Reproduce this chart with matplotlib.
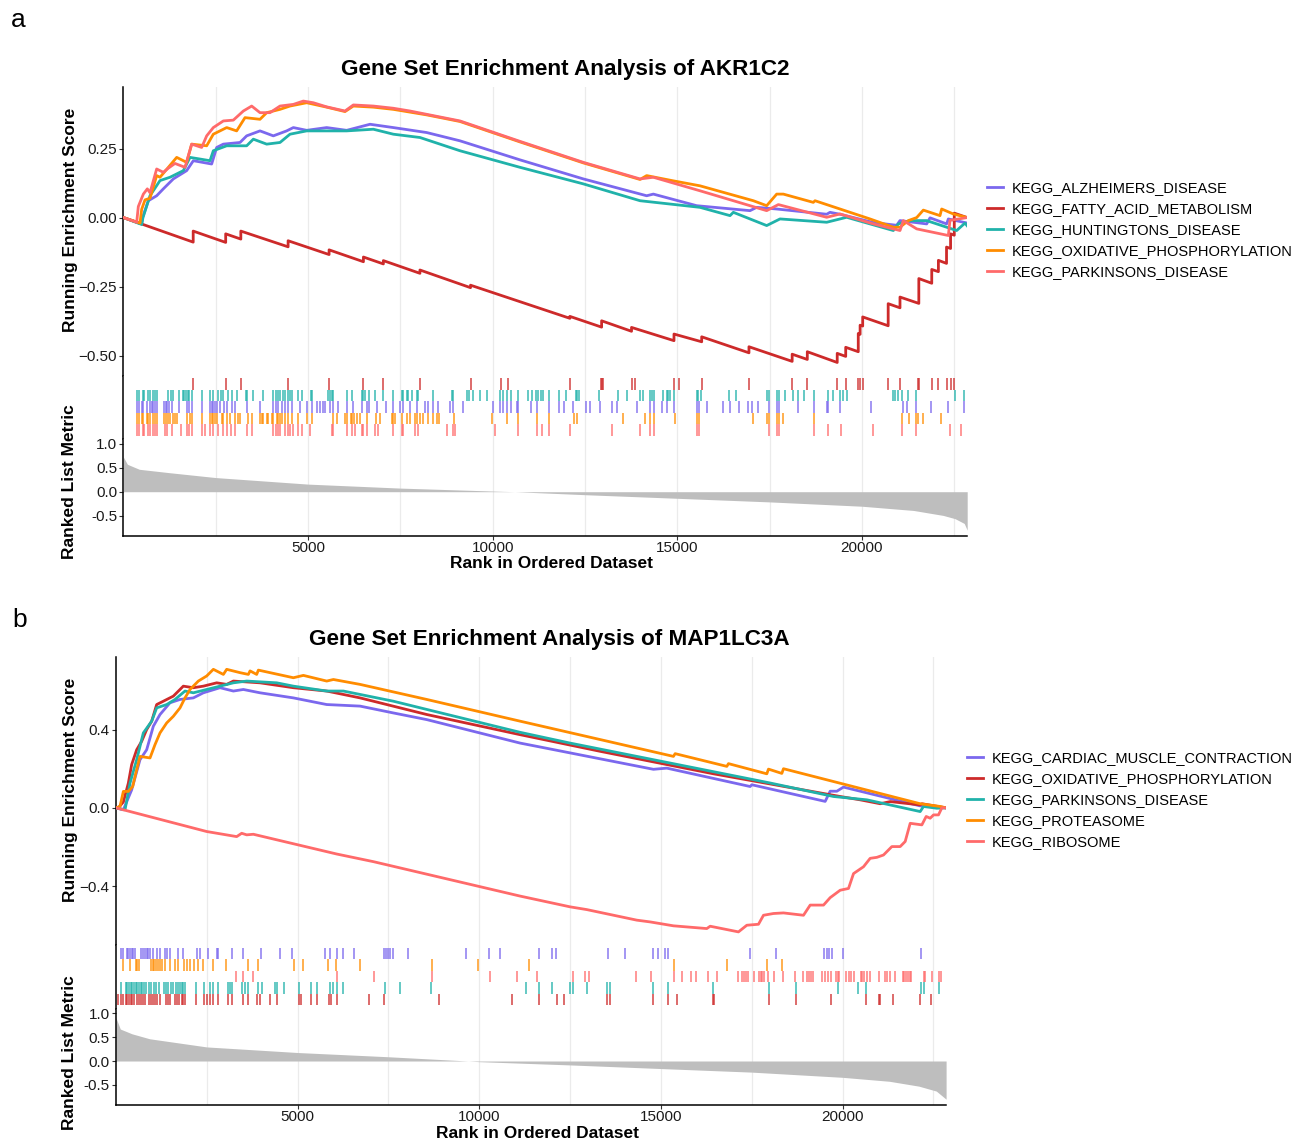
import matplotlib.pyplot as plt
import numpy as np

plt.rcParams['font.family'] = ['Liberation Sans', 'DejaVu Sans']

W, H = 1302, 1141
N_GENES = 22850

# colours per gene set
PURPLE, RED, TEAL, ORANGE, SALMON = '#7B68EE', '#CD2A2A', '#20B2AA', '#FF8C00', '#FF6A6A'

# ---------------- panel a : AKR1C2 ----------------
a_title = 'Gene Set Enrichment Analysis of AKR1C2'
a_names = ['KEGG_ALZHEIMERS_DISEASE', 'KEGG_FATTY_ACID_METABOLISM', 'KEGG_HUNTINGTONS_DISEASE',
           'KEGG_OXIDATIVE_PHOSPHORYLATION', 'KEGG_PARKINSONS_DISEASE']
a_colors = [PURPLE, RED, TEAL, ORANGE, SALMON]

a_alz_rank = [0, 495, 520, 675, 901, 1081, 1352, 1713, 1894, 2390, 2526, 2706, 3158, 3338, 3699, 4060,
              4421, 4602, 4963, 5505, 6046, 6678, 7310, 8213, 9115, 10740, 12455, 14170, 14351, 15524,
              16968, 17149, 17691, 19045, 19135, 19406, 20308, 20940, 21030, 21753, 21843, 22294, 22339, 22850]
a_alz_es = [0, -0.023, 0.0, 0.061, 0.079, 0.104, 0.14, 0.17, 0.206, 0.194, 0.254, 0.266, 0.272, 0.296,
            0.314, 0.296, 0.314, 0.326, 0.316, 0.326, 0.316, 0.338, 0.326, 0.308, 0.278, 0.209, 0.14, 0.079,
            0.085, 0.043, 0.025, 0.037, 0.031, 0.012, 0.019, 0.012, -0.018, -0.028, -0.011, -0.023, -0.001,
            -0.023, -0.005, -0.02]

# fatty acid metabolism: hit ranks with running score just before / after each jump
a_fatty_jump = [1890, 2770, 3180, 4460, 5570, 6500, 7040, 8030, 9400, 12090, 12950, 13760, 14910, 15660,
                16940, 18110, 18520, 19330, 19560, 19900, 19950, 20020, 20710, 21030, 21540, 21890, 22070,
                22290, 22400, 22500]
a_fatty_before = [-0.089, -0.090, -0.078, -0.106, -0.134, -0.160, -0.168, -0.202, -0.254, -0.365, -0.397,
                  -0.412, -0.446, -0.450, -0.490, -0.521, -0.514, -0.525, -0.503, -0.486, -0.423, -0.393,
                  -0.392, -0.327, -0.311, -0.238, -0.196, -0.166, -0.112, -0.064]
a_fatty_after = [-0.049, -0.059, -0.049, -0.084, -0.117, -0.143, -0.156, -0.190, -0.245, -0.358, -0.374,
                 -0.398, -0.422, -0.432, -0.468, -0.495, -0.486, -0.492, -0.470, -0.420, -0.390, -0.360,
                 -0.312, -0.288, -0.221, -0.188, -0.155, -0.107, -0.059, 0.016]

a_hunt_rank = [0, 495, 530, 720, 991, 1262, 1623, 1804, 2345, 2435, 2797, 3338, 3519, 3880, 4241, 4511,
               4963, 5505, 6046, 6768, 7310, 8032, 9115, 10740, 12455, 13990, 15614, 16427, 16517, 17420,
               17781, 19045, 19586, 20850, 20985, 21301, 21753, 22565, 22790, 22850]
a_hunt_es = [0, -0.025, 0.0, 0.079, 0.134, 0.146, 0.17, 0.218, 0.206, 0.242, 0.26, 0.26, 0.284, 0.266,
             0.272, 0.302, 0.314, 0.314, 0.314, 0.32, 0.302, 0.29, 0.242, 0.182, 0.122, 0.061, 0.037, 0.007,
             0.019, -0.029, -0.005, -0.017, 0.001, -0.047, -0.023, -0.011, -0.011, -0.047, -0.02, -0.03]

a_oxphos_rank = [0, 450, 495, 585, 720, 901, 991, 1443, 1713, 1849, 2255, 2435, 2797, 3067, 3293, 3699,
                 3880, 4241, 4511, 4963, 5505, 6001, 6227, 6768, 7310, 8213, 9115, 10740, 12455, 13990,
                 14170, 14892, 15614, 17059, 17420, 17691, 17871, 18683, 18729, 20218, 20850, 21030, 21256,
                 21482, 21662, 22113, 22159, 22474, 22850]
a_oxphos_es = [0, -0.02, 0.03, 0.064, 0.07, 0.152, 0.146, 0.218, 0.2, 0.266, 0.26, 0.302, 0.326, 0.314,
               0.362, 0.356, 0.38, 0.392, 0.404, 0.416, 0.4, 0.384, 0.404, 0.4, 0.392, 0.372, 0.348, 0.274,
               0.198, 0.138, 0.152, 0.133, 0.115, 0.061, 0.043, 0.085, 0.085, 0.055, 0.061, -0.005, -0.035,
               -0.035, -0.011, 0.0, 0.027, 0.007, 0.031, 0.013, 0.0]

a_park_rank = [0, 360, 404, 540, 648, 720, 901, 1081, 1217, 1397, 1668, 1849, 2120, 2255, 2435, 2706,
               2977, 3248, 3474, 3699, 3970, 4241, 4602, 4872, 5143, 5505, 6001, 6227, 6768, 7310, 7761,
               8213, 9115, 10740, 12455, 13990, 14351, 15614, 17420, 17736, 19045, 19406, 20308, 21030,
               21120, 21482, 22339, 22384, 22850]
a_park_es = [0, -0.017, 0.04, 0.085, 0.104, 0.09, 0.176, 0.164, 0.179, 0.196, 0.182, 0.266, 0.254, 0.296,
             0.326, 0.35, 0.353, 0.386, 0.404, 0.38, 0.38, 0.404, 0.41, 0.422, 0.416, 0.401, 0.386, 0.408,
             0.404, 0.396, 0.386, 0.374, 0.35, 0.276, 0.2, 0.14, 0.146, 0.097, 0.025, 0.047, 0.001, 0.013,
             -0.023, -0.047, -0.011, -0.041, -0.065, -0.01, 0.0]

# gene positions of each set in the ranked list
a_hits_alz = [377, 431, 495, 540, 630, 720, 766, 811, 856, 901, 1099, 1145, 1190, 1235, 1307, 1515, 1731,
              1785, 1849, 2120, 2345, 2390, 2435, 2481, 2526, 2616, 2724, 2797, 2932, 3022, 3338, 3699,
              4042, 4132, 4196, 4286, 4376, 4466, 4557, 4782, 4963, 5116, 5252, 5324, 5396, 5468, 5595,
              5685, 5820, 6046, 6226, 6452, 6588, 6660, 6859, 7111, 7310, 7490, 7581, 7761, 7942, 8167,
              8258, 8393, 8528, 8844, 8935, 9187, 10000, 10198, 10289, 10397, 10487, 10650, 10695, 11029,
              11191, 11534, 11805, 11940, 12184, 12527, 12636, 12906, 13222, 13376, 13917, 14260, 14369,
              14576, 14712, 14910, 15542, 15596, 15795, 16246, 16427, 16679, 16923, 17014, 17176, 17492,
              17708, 17763, 18277, 18701, 19045, 19072, 19406, 20236, 21103, 21211, 21464, 21861, 22321,
              22763]
a_hits_fatty = [1890, 2770, 3180, 4460, 5570, 6500, 7040, 8030, 9400, 10220, 10420, 12090, 12930, 12960,
                12990, 13760, 13850, 14910, 15050, 15660, 16940, 18110, 18520, 19330, 19560, 19900, 19950,
                20020, 20710, 21030, 21530, 21550, 21890, 22070, 22290, 22400, 22500]
a_hits_hunt = [377, 431, 522, 567, 675, 720, 811, 856, 901, 1217, 1280, 1352, 1506, 1605, 1650, 1695,
               1740, 1785, 1849, 2120, 2345, 2435, 2571, 2634, 2706, 2842, 2932, 3067, 3311, 3356, 3519,
               3789, 4060, 4132, 4196, 4241, 4313, 4376, 4466, 4511, 4557, 4737, 4827, 5071, 5116, 5550,
               5595, 5640, 5685, 6046, 6199, 6452, 6497, 6543, 6660, 6813, 7039, 7310, 7536, 7581, 7671,
               7716, 7806, 7942, 7987, 8375, 8890, 8935, 9314, 9368, 9458, 9657, 9837, 10198, 10289, 10379,
               10487, 10695, 10966, 11056, 11173, 11236, 11300, 11354, 11534, 11805, 11986, 12256, 12292,
               12347, 12888, 13385, 13629, 13990, 14062, 14260, 14306, 14369, 14621, 14712, 14757, 14802,
               14910, 15524, 15569, 15632, 16409, 16589, 17420, 17492, 17708, 17763, 17916, 18142, 18277,
               18431, 18701, 19090, 19225, 19406, 19478, 19586, 20832, 20895, 20967, 21094, 21256, 21464,
               22520, 22763]
a_hits_oxphos = [377, 431, 495, 540, 630, 675, 720, 811, 856, 901, 1108, 1145, 1199, 1262, 1352, 1397,
                 1443, 1731, 1804, 1849, 2120, 2345, 2390, 2435, 2481, 2526, 2661, 2706, 2797, 2887, 3022,
                 3112, 3158, 3383, 3474, 3699, 3744, 3789, 3880, 3925, 4015, 4060, 4150, 4196, 4241, 4286,
                 4376, 4448, 4557, 4737, 4963, 5116, 5685, 5775, 6001, 6046, 6154, 6199, 6245, 6317, 6407,
                 6588, 6840, 6949, 7265, 7310, 7355, 7536, 7671, 7761, 7897, 7942, 8032, 8122, 8258, 8375,
                 8483, 8555, 8962, 9973, 10397, 10695, 11191, 11534, 12202, 12292, 13538, 14125, 14260,
                 14369, 14937, 15542, 15596, 17058, 17438, 17492, 17708, 17763, 17871, 18701, 21094, 21274,
                 21464, 21527, 21644, 22141]
a_hits_park = [377, 431, 522, 567, 675, 720, 811, 856, 901, 1127, 1172, 1307, 1551, 1731, 1785, 1849,
               2120, 2210, 2345, 2435, 2571, 2706, 2797, 2905, 3022, 3338, 3491, 4060, 4132, 4196, 4241,
               4376, 4466, 4511, 4584, 4737, 4827, 5053, 5640, 5685, 6046, 6182, 6272, 6452, 6497, 6588,
               6813, 6904, 7310, 7536, 7581, 7897, 7987, 8754, 8935, 8980, 10063, 10695, 11191, 11327,
               11534, 12094, 13240, 13990, 14260, 14369, 15542, 15596, 17492, 17708, 17763, 18701, 19090,
               19424, 20308, 21094, 21464, 22384, 22673]

# ranked list metric
a_metric_rank = [0, 108, 431, 1240, 2500, 5000, 7500, 10000, 10600, 12500, 15000, 17500, 20000, 21400,
                 22200, 22520, 22770, 22850]
a_metric = [0.72, 0.57, 0.466, 0.396, 0.294, 0.158, 0.075, 0.014, 0.0, -0.062, -0.137, -0.212, -0.302,
            -0.39, -0.493, -0.56, -0.66, -0.80]

# ---------------- panel b : MAP1LC3A ----------------
b_title = 'Gene Set Enrichment Analysis of MAP1LC3A'
b_names = ['KEGG_CARDIAC_MUSCLE_CONTRACTION', 'KEGG_OXIDATIVE_PHOSPHORYLATION', 'KEGG_PARKINSONS_DISEASE',
           'KEGG_PROTEASOME', 'KEGG_RIBOSOME']
b_colors = [PURPLE, RED, TEAL, ORANGE, SALMON]

b_cardiac_rank = [0, 205, 434, 663, 847, 1030, 1214, 1489, 1765, 2132, 2407, 2866, 3233, 3508, 3967, 4885,
                  5802, 6720, 7638, 8556, 11125, 11676, 14795, 15163, 17457, 17503, 19522, 19659, 19843,
                  20026, 22137, 22850]
b_cardiac_es = [0, -0.01, 0.092, 0.246, 0.297, 0.417, 0.477, 0.537, 0.554, 0.562, 0.588, 0.614, 0.597,
                0.605, 0.588, 0.562, 0.528, 0.52, 0.485, 0.451, 0.331, 0.311, 0.197, 0.203, 0.109, 0.118,
                0.033, 0.085, 0.085, 0.106, 0.01, 0.0]

b_oxphos_rank = [0, 67, 205, 342, 434, 572, 709, 847, 985, 1122, 1306, 1581, 1856, 2132, 2407, 2774, 3049,
                 3233, 3967, 4885, 5802, 6720, 8556, 11125, 13327, 16447, 19935, 20485, 21036, 21311, 22137,
                 22183, 22850]
b_oxphos_es = [0, 0.0, 0.03, 0.126, 0.221, 0.297, 0.34, 0.40, 0.443, 0.528, 0.545, 0.571, 0.622, 0.614,
               0.622, 0.639, 0.631, 0.648, 0.639, 0.614, 0.597, 0.562, 0.477, 0.374, 0.289, 0.174, 0.058,
               0.041, 0.021, 0.032, 0.015, 0.021, 0.0]

b_park_rank = [0, 251, 388, 572, 755, 985, 1122, 1398, 1627, 1902, 2132, 2499, 2866, 3233, 3600, 4426,
               4885, 5802, 6261, 7638, 8556, 11125, 12501, 14795, 18007, 19751, 20669, 22137, 22228, 22595,
               22850]
b_park_es = [0, -0.01, 0.126, 0.246, 0.383, 0.443, 0.511, 0.528, 0.554, 0.597, 0.588, 0.605, 0.622, 0.639,
             0.648, 0.639, 0.622, 0.597, 0.597, 0.545, 0.503, 0.386, 0.331, 0.246, 0.127, 0.058, 0.041,
             -0.019, 0.007, -0.002, 0.0]

b_prot_rank = [0, 113, 205, 342, 462, 572, 663, 939, 1076, 1214, 1398, 1581, 1765, 1902, 2040, 2269, 2499,
               2682, 2958, 3049, 3416, 3646, 3692, 3875, 3921, 4885, 5160, 5802, 5986, 6720, 8556, 11125,
               15346, 15392, 16815, 16860, 17916, 17961, 18329, 18374, 22137, 22687, 22850]
b_prot_es = [0, 0.007, 0.084, 0.084, 0.109, 0.195, 0.263, 0.255, 0.323, 0.383, 0.434, 0.468, 0.511, 0.562,
             0.605, 0.648, 0.674, 0.708, 0.682, 0.708, 0.691, 0.682, 0.70, 0.682, 0.704, 0.665, 0.677,
             0.648, 0.656, 0.631, 0.554, 0.443, 0.263, 0.277, 0.212, 0.226, 0.174, 0.198, 0.176, 0.2,
             0.021, 0.007, 0.0]

b_ribo_rank = [0, 2499, 3325, 3462, 3600, 3783, 6078, 7087, 11125, 12501, 12960, 14337, 14704, 15346,
               16264, 16356, 17135, 17365, 17686, 17824, 18099, 18374, 18925, 19109, 19476, 19659, 19935,
               20164, 20302, 20577, 20760, 20944, 21127, 21357, 21586, 21724, 21862, 22183, 22302, 22412,
               22504, 22641, 22733, 22850]
b_ribo_es = [0, -0.121, -0.147, -0.130, -0.138, -0.135, -0.236, -0.275, -0.451, -0.506, -0.520, -0.574,
             -0.583, -0.603, -0.617, -0.605, -0.634, -0.600, -0.595, -0.549, -0.540, -0.537, -0.549,
             -0.497, -0.497, -0.459, -0.421, -0.412, -0.336, -0.301, -0.258, -0.253, -0.241, -0.198,
             -0.198, -0.172, -0.079, -0.087, -0.044, -0.053, -0.036, -0.036, 0.0, 0.0]

b_hits_cardiac = [140, 205, 296, 342, 388, 434, 480, 526, 691, 737, 801, 847, 893, 939, 1030, 1122, 1214,
                  1352, 1398, 1489, 1701, 1856, 2224, 2315, 2545, 2774, 2820, 3187, 3508, 3995, 4518, 4839,
                  5757, 5894, 6096, 6261, 6555, 7381, 7436, 7500, 7546, 7638, 8051, 9629, 10271, 10574,
                  11657, 12015, 12107, 13538, 14016, 14777, 14933, 15117, 15208, 17457, 18163, 19494, 19568,
                  19632, 19705, 20008, 22155]
b_hits_prot = [186, 388, 553, 590, 645, 957, 1012, 1049, 1104, 1168, 1214, 1260, 1352, 1489, 1627, 1719,
               1875, 1966, 2040, 2150, 2269, 2407, 2664, 3031, 3646, 3921, 4912, 5160, 5830, 6059, 6720,
               8711, 9978, 11373, 15374, 16814, 17916, 18347]
b_hits_ribo = [3306, 3490, 3783, 6096, 7115, 8711, 10299, 11033, 11584, 12593, 12914, 13024, 14309, 14722,
               15364, 15594, 15823, 15961, 16309, 16557, 17117, 17227, 17292, 17347, 17411, 17567, 17705,
               17750, 17796, 17842, 17961, 18117, 18374, 18696, 18925, 19017, 19090, 19136, 19200, 19448,
               19522, 19595, 19678, 19815, 19861, 19907, 20100, 20164, 20237, 20320, 20504, 20549, 20604,
               20669, 20742, 20990, 21173, 21237, 21311, 21430, 21660, 21705, 21751, 21797, 21843, 21889,
               22229, 22274, 22458, 22642, 22706]
b_hits_park = [140, 278, 315, 361, 407, 452, 498, 544, 590, 636, 682, 728, 774, 820, 911, 957, 1049, 1095,
               1187, 1324, 1379, 1443, 1508, 1581, 1655, 1719, 1765, 1811, 1856, 1902, 2205, 2425, 2591,
               2682, 2820, 3077, 3141, 3205, 3462, 3554, 3628, 3921, 4013, 4380, 4426, 4637, 5041, 5371,
               5545, 5894, 5986, 6078, 6243, 7408, 7821, 8675, 11281, 11657, 11997, 12501, 12575, 12978,
               13511, 13603, 14777, 15208, 16429, 17989, 18714, 19870, 20412, 20641, 22155, 22229, 22642]
b_hits_oxphos = [67, 131, 186, 278, 315, 361, 407, 452, 498, 572, 636, 682, 755, 801, 920, 966, 1012, 1076,
                 1122, 1214, 1370, 1443, 1489, 1627, 1673, 1737, 1811, 1856, 1902, 2205, 2425, 2499, 2591,
                 2682, 2820, 3095, 3187, 3508, 3646, 3894, 3967, 4242, 4426, 5050, 5087, 5371, 5545, 5876,
                 5913, 6078, 6977, 7390, 8904, 10896, 11657, 12134, 12345, 13511, 13603, 14777, 15208,
                 15438, 16447, 16475, 17989, 18714, 19687, 20650, 20990, 21036, 21375, 22137, 22431]

b_metric_rank = [0, 121, 443, 928, 2500, 5000, 7500, 9700, 10000, 12500, 15000, 17500, 20000, 21290,
                 22100, 22580, 22850]
b_metric = [0.91, 0.67, 0.57, 0.466, 0.295, 0.178, 0.089, 0.0, -0.014, -0.082, -0.158, -0.233, -0.342,
            -0.425, -0.527, -0.63, -0.80]


def jump_curve(jumps, before, after):
    xs, ys = [0], [0.0]
    for j, b, a in zip(jumps, before, after):
        xs += [j, j]
        ys += [b, a]
    xs.append(N_GENES)
    ys.append(0.0)
    return xs, ys


fig = plt.figure(figsize=(W / 100, H / 100), dpi=100)


def add_ax(l, t, r, b):
    return fig.add_axes([l / W, 1 - b / H, (r - l) / W, (b - t) / H])


def vgrid(ax):
    for x in np.arange(2500, N_GENES, 2500):
        ax.axvline(x, color='#EBEBEB', lw=0.9, zorder=0)


def style(ax):
    for s in ['top', 'right']:
        ax.spines[s].set_visible(False)
    ax.spines['left'].set_linewidth(1.1)
    ax.spines['bottom'].set_linewidth(1.1)
    ax.tick_params(length=3, width=0.8, color='#333333', labelsize=11, labelcolor='#1a1a1a', pad=1.5)
    ax.tick_params(axis='x', pad=0.5)
    ax.set_xlim(0, N_GENES)


def draw_panel(lay, title, names, colors, curves, hit_rows, mrank, mval, es_ticks, es_labels):
    L, R = lay['left'], lay['right']
    t0, t1, t2, t3 = lay['rows']

    ax1 = add_ax(L, t0, R, t1)
    style(ax1)
    vgrid(ax1)
    ax1.spines['bottom'].set_visible(False)
    for name, col, (x, y) in zip(names, colors, curves):
        ax1.plot(x, y, color=col, lw=2.0, label=name, zorder=3)
    ax1.set_ylim(*lay['es_lim'])
    ax1.set_xticks([])
    ax1.set_yticks(es_ticks)
    ax1.set_yticklabels(es_labels)

    ax2 = add_ax(L, t1, R, t2)
    style(ax2)
    vgrid(ax2)
    ax2.spines['bottom'].set_visible(False)
    for k, (hits, col) in enumerate(hit_rows):
        ax2.vlines(hits, 4 - k, 5 - k, color=col, lw=1.3, alpha=0.75, zorder=2)
    ax2.set_ylim(*lay['hit_lim'])
    ax2.set_xticks([])
    ax2.set_yticks([])

    ax3 = add_ax(L, t2, R, t3)
    style(ax3)
    vgrid(ax3)
    ax3.fill_between(mrank, 0, mval, color='#BEBEBE', lw=0, zorder=2)
    ax3.set_ylim(*lay['met_lim'])
    ax3.set_yticks([-0.5, 0.0, 0.5, 1.0])
    ax3.set_yticklabels(['-0.5', '0.0', '0.5', '1.0'])
    ax3.set_xticks([5000, 10000, 15000, 20000])

    fig.text(lay['title'][0] / W, 1 - lay['title'][1] / H, title, ha='center', va='center',
             fontsize=16.2, fontweight='bold')
    fig.text(lay['letter'][0] / W, 1 - lay['letter'][1] / H, lay['letter_txt'], ha='center',
             va='center', fontsize=19)
    fig.text(lay['ylab_x'] / W, 1 - lay['es_lab_y'] / H, 'Running Enrichment Score', rotation=90,
             ha='center', va='center', fontsize=12.5, fontweight='bold')
    fig.text(lay['ylab_x'] / W, 1 - lay['met_lab_y'] / H, 'Ranked List Metric', rotation=90,
             ha='center', va='center', fontsize=12.5, fontweight='bold')
    fig.text(lay['xlab'][0] / W, 1 - lay['xlab'][1] / H, 'Rank in Ordered Dataset', ha='center',
             va='center', fontsize=12.5, fontweight='bold')

    handles, labels = ax1.get_legend_handles_labels()
    fig.legend(handles, labels, loc='center left',
               bbox_to_anchor=(lay['legend'][0] / W, 1 - lay['legend'][1] / H),
               frameon=False, fontsize=10.5, handlelength=1.1, handletextpad=0.6,
               labelspacing=0.47, borderpad=0, borderaxespad=0)


lay_a = dict(left=123.4, right=967.2, rows=(87, 376, 439, 536), es_lim=(-0.574, 0.473),
             hit_lim=(-0.26, 5.17), met_lim=(-0.921, 1.096), title=(565, 70), letter=(18, 20),
             letter_txt='a', ylab_x=70, es_lab_y=220, met_lab_y=482, xlab=(552, 563), legend=(987, 230))
lay_b = dict(left=115.9, right=946.1, rows=(657, 945, 1009, 1105), es_lim=(-0.701, 0.771),
             hit_lim=(-0.35, 5.26), met_lim=(-0.922, 1.09), title=(549, 640), letter=(20, 620),
             letter_txt='b', ylab_x=70, es_lab_y=790, met_lab_y=1053, xlab=(538, 1133), legend=(967, 800))

draw_panel(lay_a, a_title, a_names, a_colors,
           [(a_alz_rank, a_alz_es), jump_curve(a_fatty_jump, a_fatty_before, a_fatty_after),
            (a_hunt_rank, a_hunt_es), (a_oxphos_rank, a_oxphos_es), (a_park_rank, a_park_es)],
           [(a_hits_fatty, RED), (a_hits_hunt, TEAL), (a_hits_alz, PURPLE),
            (a_hits_oxphos, ORANGE), (a_hits_park, SALMON)],
           a_metric_rank, a_metric, [-0.5, -0.25, 0.0, 0.25], ['\u22120.50', '\u22120.25', '0.00', '0.25'])

draw_panel(lay_b, b_title, b_names, b_colors,
           [(b_cardiac_rank, b_cardiac_es), (b_oxphos_rank, b_oxphos_es), (b_park_rank, b_park_es),
            (b_prot_rank, b_prot_es), (b_ribo_rank, b_ribo_es)],
           [(b_hits_cardiac, PURPLE), (b_hits_prot, ORANGE), (b_hits_ribo, SALMON),
            (b_hits_park, TEAL), (b_hits_oxphos, RED)],
           b_metric_rank, b_metric, [-0.4, 0.0, 0.4], ['\u22120.4', '0.0', '0.4'])

fig.savefig('out.png', dpi=100)
